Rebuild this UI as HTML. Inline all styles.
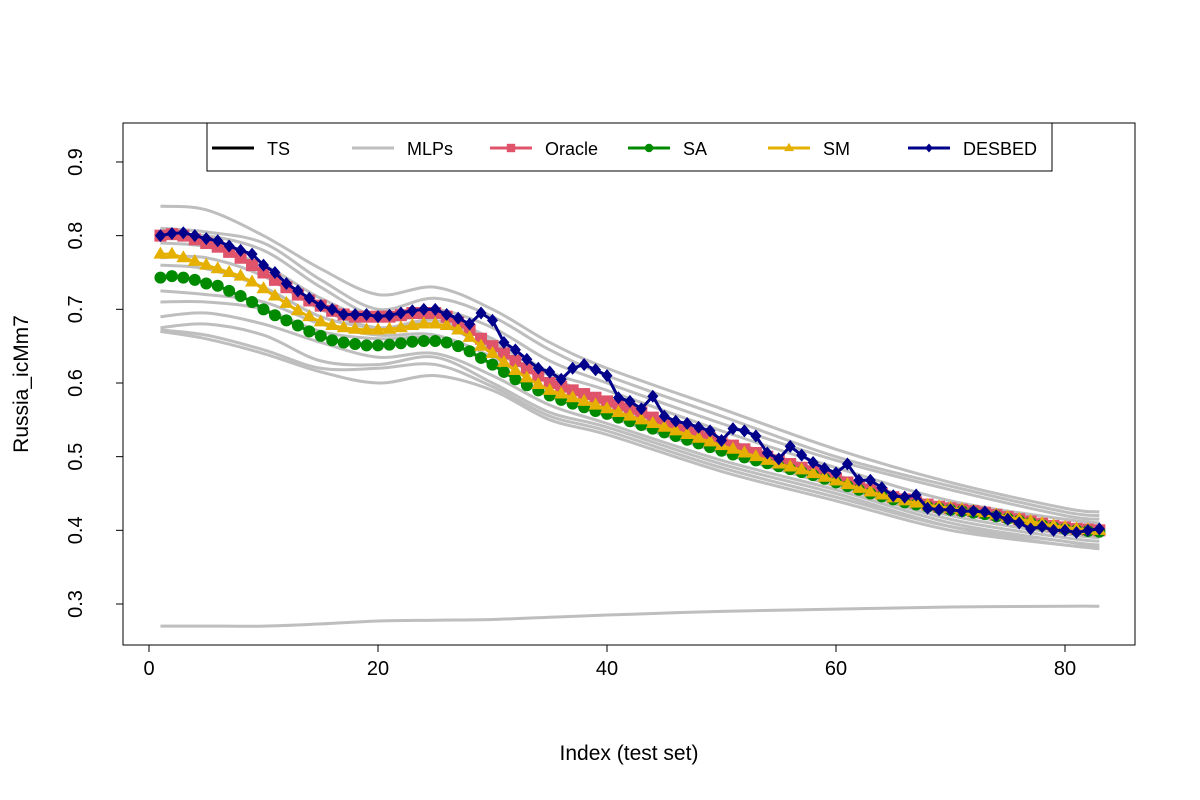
<!DOCTYPE html>
<html><head><meta charset="utf-8"><style>
body{margin:0;background:#fff}
svg{display:block;font-family:"Liberation Sans",Arial,sans-serif}
</style></head><body>
<svg id="chart" width="1200" height="800" xmlns="http://www.w3.org/2000/svg">
<rect width="1200" height="800" fill="#fff"/>
<g id="mlps"></g>
<g id="series"></g>
<rect x="123" y="123" width="1012" height="522" fill="none" stroke="#000" stroke-width="1"/>
<g id="axes"></g>
<text x="629" y="760" font-size="21" text-anchor="middle">Index (test set)</text>
<text transform="translate(28,384) rotate(-90)" font-size="21" text-anchor="middle">Russia_icMm7</text>
<g id="legend"></g>
</svg>
<script>
const mlpIdx=[1,5,10,15,20,25,30,35,40,50,60,70,80,83];
const mlpSeries=[
[.84,.835,.80,.755,.72,.73,.70,.655,.62,.565,.51,.465,.43,.425],
[.81,.805,.79,.74,.70,.715,.69,.645,.61,.555,.50,.46,.425,.42],
[.80,.80,.78,.73,.69,.70,.675,.63,.60,.545,.495,.455,.42,.415],
[.79,.785,.76,.715,.685,.69,.66,.615,.59,.535,.485,.44,.415,.41],
[.77,.77,.745,.70,.675,.685,.655,.61,.575,.525,.475,.43,.405,.40],
[.76,.755,.73,.69,.675,.68,.645,.60,.57,.52,.47,.425,.40,.395],
[.725,.72,.71,.68,.665,.665,.635,.59,.56,.51,.465,.42,.395,.39],
[.71,.71,.70,.67,.66,.66,.625,.585,.555,.505,.46,.415,.39,.385],
[.69,.695,.68,.655,.635,.64,.61,.57,.545,.495,.455,.41,.385,.38],
[.675,.68,.665,.63,.625,.635,.60,.56,.54,.49,.45,.405,.38,.378],
[.672,.665,.645,.62,.62,.625,.595,.555,.535,.485,.445,.405,.385,.375],
[.67,.66,.64,.615,.60,.61,.59,.55,.53,.48,.44,.40,.38,.375],
[.27,.27,.27,.273,.277,.278,.279,.282,.285,.29,.293,.296,.297,.297]];
const oracle=[.800,.802,.800,.795,.790,.785,.778,.770,.760,.750,.740,.730,.720,.712,.705,.698,.693,.690,.690,.690,.690,.692,.695,.695,.695,.690,.682,.672,.660,.650,.640,.630,.620,.610,.600,.595,.590,.585,.580,.575,.570,.565,.560,.553,.546,.540,.535,.530,.525,.520,.515,.510,.505,.500,.495,.490,.485,.480,.475,.470,.465,.460,.455,.450,.445,.442,.438,.435,.432,.430,.428,.426,.424,.421,.418,.415,.412,.409,.406,.404,.402,.401,.400];
const sm=[.775,.775,.770,.765,.760,.755,.750,.745,.737,.728,.718,.708,.698,.690,.683,.678,.675,.673,.672,.672,.673,.675,.678,.680,.680,.678,.672,.662,.650,.640,.628,.617,.607,.598,.590,.585,.580,.575,.570,.565,.560,.555,.550,.545,.540,.535,.530,.525,.520,.515,.510,.505,.500,.495,.490,.486,.482,.477,.472,.467,.462,.457,.452,.448,.444,.440,.437,.434,.432,.430,.428,.426,.424,.421,.418,.415,.412,.409,.406,.404,.402,.401,.400];
const sa=[.743,.745,.743,.740,.735,.732,.725,.718,.710,.700,.692,.685,.678,.670,.664,.658,.655,.653,.651,.651,.652,.654,.656,.657,.657,.655,.650,.643,.634,.625,.615,.605,.597,.590,.583,.577,.572,.567,.562,.558,.553,.548,.543,.538,.533,.528,.523,.518,.513,.508,.503,.499,.495,.491,.487,.483,.479,.475,.470,.465,.460,.455,.450,.446,.442,.438,.435,.432,.430,.428,.426,.424,.422,.419,.416,.413,.410,.407,.404,.402,.400,.399,.398];
const desbed=[.80,.803,.804,.80,.796,.793,.786,.78,.775,.76,.75,.735,.725,.715,.705,.70,.693,.693,.693,.69,.692,.695,.698,.70,.70,.693,.688,.68,.695,.685,.655,.645,.632,.62,.615,.605,.62,.625,.618,.61,.58,.575,.565,.582,.555,.548,.545,.54,.535,.522,.538,.535,.528,.505,.497,.514,.502,.492,.484,.478,.49,.468,.468,.458,.447,.445,.448,.43,.428,.428,.426,.426,.425,.42,.415,.41,.402,.405,.40,.40,.397,.40,.402];
const xTicks=[0,20,40,60,80];
const yTicks=[0.3,0.4,0.5,0.6,0.7,0.8,0.9];
const legendLabels=["TS","MLPs","Oracle","SA","SM","DESBED"];

const NS="http://www.w3.org/2000/svg";
const X=i=>149+i*11.45;
const Y=v=>604-(v-0.3)*736.7;
function mk(tag,attrs,parent){const e=document.createElementNS(NS,tag);for(const k in attrs)e.setAttribute(k,attrs[k]);parent.appendChild(e);return e;}
const gM=document.getElementById('mlps'),gS=document.getElementById('series'),gA=document.getElementById('axes'),gL=document.getElementById('legend');

function smoothPath(pts){
  let d='M'+pts[0][0]+','+pts[0][1];
  for(let i=0;i<pts.length-1;i++){
    const p0=pts[Math.max(0,i-1)],p1=pts[i],p2=pts[i+1],p3=pts[Math.min(pts.length-1,i+2)];
    const c1x=p1[0]+(p2[0]-p0[0])/6,c1y=p1[1]+(p2[1]-p0[1])/6;
    const c2x=p2[0]-(p3[0]-p1[0])/6,c2y=p2[1]-(p3[1]-p1[1])/6;
    d+=` C${c1x},${c1y} ${c2x},${c2y} ${p2[0]},${p2[1]}`;
  }
  return d;
}
mlpSeries.forEach((s,k)=>{
  const p=mk('path',{d:smoothPath(s.map((v,j)=>[X(mlpIdx[j]),Y(v)])),fill:'none',stroke:'#bebebe','stroke-width':3},gM);
  
  
});

function marker(type,cx,cy,color,g){
  let e;
  if(type==='sq')e=mk('rect',{x:cx-6,y:cy-6,width:12,height:12,fill:color},g);
  else if(type==='ci')e=mk('circle',{cx,cy,r:6,fill:color},g);
  else if(type==='tr')e=mk('polygon',{points:`${cx},${cy-7.5} ${cx+7},${cy+4.5} ${cx-7},${cy+4.5}`,fill:color},g);
  else e=mk('polygon',{points:`${cx},${cy-6.5} ${cx+5.5},${cy} ${cx},${cy+6.5} ${cx-5.5},${cy}`,fill:color},g);
  return e;
}
function series(name,data,color,type){
  const g=mk('g',{},gS);
  
  
  const l=mk('polyline',{points:data.map((v,i)=>X(i+1)+','+Y(v)).join(' '),fill:'none',stroke:color,'stroke-width':3},g);
  
  
  data.forEach((v,i)=>{const m=marker(type,X(i+1),Y(v),color,g);
    
    });
}
series('oracle',oracle,'#df536b','sq');
series('sa',sa,'#008a00','ci');
series('sm',sm,'#e6b000','tr');
series('desbed',desbed,'#00008b','di');

mk('line',{x1:X(0),x2:X(80),y1:645,y2:645,stroke:'#000'},gA);
xTicks.forEach(t=>{mk('line',{x1:X(t),x2:X(t),y1:645,y2:652,stroke:'#000'},gA);
  const tx=mk('text',{x:X(t),y:675,'font-size':20,'text-anchor':'middle'},gA);tx.textContent=t;
  
  });
mk('line',{x1:123,x2:123,y1:Y(0.3),y2:Y(0.9),stroke:'#000'},gA);
yTicks.forEach(t=>{mk('line',{x1:116,x2:123,y1:Y(t),y2:Y(t),stroke:'#000'},gA);
  const tx=mk('text',{transform:`translate(82,${Y(t)}) rotate(-90)`,'font-size':20,'text-anchor':'middle'},gA);tx.textContent=t.toFixed(1);
  
  });

mk('rect',{x:207,y:123,width:845,height:48,fill:'#fff',stroke:'#000'},gL);
const lcols=['#000','#bebebe','#df536b','#008a00','#e6b000','#00008b'];
const ltypes=[null,null,'sq','ci','tr','di'];
const lx=[212,352,490,628,768,908];
legendLabels.forEach((lab,k)=>{
  const g=mk('g',{},gL);
  
  
  mk('line',{x1:lx[k],x2:lx[k]+42,y1:148,y2:148,stroke:lcols[k],'stroke-width':3},g);
  if(ltypes[k]){const m=marker(ltypes[k],lx[k]+21,148,lcols[k],g);m.setAttribute('transform',`translate(${lx[k]+21},148) scale(0.7) translate(${-(lx[k]+21)},-148)`);}
  const t=mk('text',{x:lx[k]+55,y:155,'font-size':18},g);t.textContent=lab;
});
</script>
</body></html>
